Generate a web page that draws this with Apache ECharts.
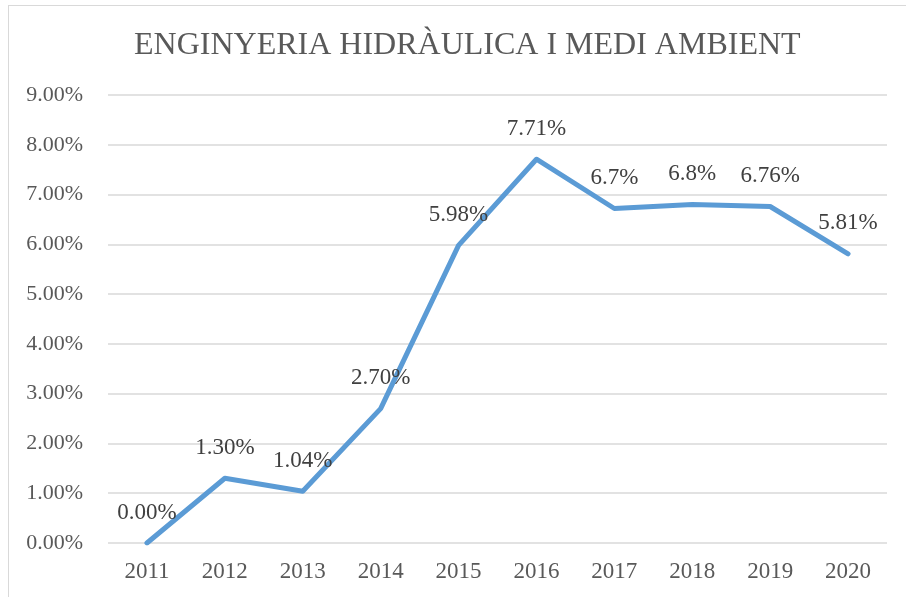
<!DOCTYPE html>
<html>
<head>
<meta charset="utf-8">
<script src="https://cdn.jsdelivr.net/npm/echarts@6/dist/echarts.min.js"></script>
<style>
  html, body { margin: 0; padding: 0; background: #fff; }
  #wrap { position: relative; width: 906px; height: 597px; overflow: hidden; }
  #chart { width: 906px; height: 597px; }
  #frame {
    position: absolute; left: 8px; top: 5px; width: 1000px; height: 1000px;
    border-left: 1.5px solid #d9d9d9; border-top: 1.5px solid #d9d9d9;
    pointer-events: none;
  }
</style>
</head>
<body>
<div id="wrap">
  <div id="chart"></div>
  <div id="frame"></div>
</div>
<script>
const years = ['2011', '2012', '2013', '2014', '2015', '2016', '2017', '2018', '2019', '2020']
const rates = [0, 1.30, 1.04, 2.70, 5.98, 7.71, 6.72, 6.80, 6.76, 5.81]
const rateLabels = ['0.00%', '1.30%', '1.04%', '2.70%', '5.98%', '7.71%', '6.7%', '6.8%', '6.76%', '5.81%']

const serif = '"Liberation Serif", "DejaVu Serif", serif'
const chart = echarts.init(document.getElementById('chart'))

const option = {
  animation: false,
  title: {
    text: 'ENGINYERIA HIDRÀULICA I MEDI AMBIENT',
    left: 129,
    top: 25,
    textStyle: {
      fontFamily: serif,
      fontSize: 32,
      fontWeight: 'normal',
      color: '#595959'
    }
  },
  grid: {
    left: 108,
    right: 19,
    top: 95,
    bottom: 54
  },
  xAxis: {
    type: 'category',
    data: years,
    boundaryGap: true,
    axisLine: { show: false },
    axisTick: { show: false },
    axisLabel: {
      margin: 17,
      fontFamily: serif,
      fontSize: 23,
      color: '#595959'
    }
  },
  yAxis: {
    type: 'value',
    min: 0,
    max: 9,
    interval: 1,
    axisLine: { show: false },
    axisTick: { show: false },
    splitLine: { lineStyle: { color: '#d9d9d9', width: 1.5 } },
    axisLabel: {
      margin: 25,
      fontFamily: serif,
      fontSize: 22,
      color: '#595959',
      formatter: v => v.toFixed(2) + '%'
    }
  },
  series: [
    {
      type: 'line',
      data: rates,
      symbol: 'circle',
      symbolSize: 2,
      showSymbol: true,
      showAllSymbol: true,
      itemStyle: { color: '#5b9bd5' },
      lineStyle: { color: '#5b9bd5', width: 5, cap: 'round', join: 'round' },
      label: {
        show: true,
        position: 'top',
        distance: 18,
        offset: [-2, 0],
        fontFamily: serif,
        fontSize: 23,
        color: '#404040',
        formatter: p => rateLabels[p.dataIndex]
      },
      labelLayout: { hideOverlap: false }
    }
  ]
}

chart.setOption(option)
</script>
</body>
</html>
